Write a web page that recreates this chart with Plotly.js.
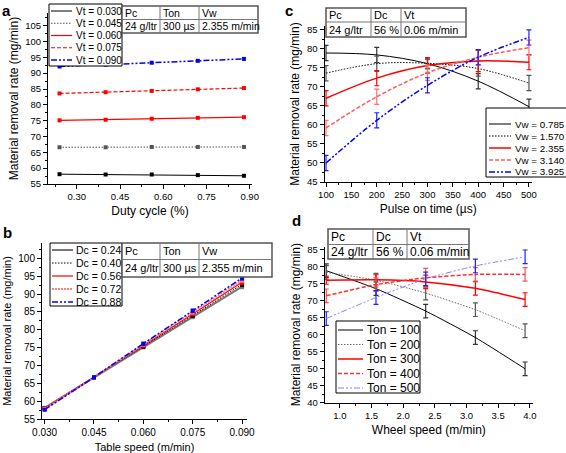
<!DOCTYPE html>
<html><head><meta charset="utf-8">
<script src="https://cdn.plot.ly/plotly-3.0.1.min.js"></script>
<style>html,body{margin:0;padding:0;background:#fff}#chart{width:566px;height:453px}</style>
</head><body><div id="chart"></div>
<script>
// ---------- data: panels a & b ----------
const dutyCycle = [0.24, 0.40, 0.56, 0.72, 0.88];
const tableSpeed = [0.030, 0.045, 0.060, 0.075, 0.090];
const mrrVt030 = [58.1, 58.0, 58.0, 57.8, 57.6];
const mrrVt045 = [66.6, 66.6, 66.7, 66.7, 66.7];
const mrrVt060 = [75.1, 75.3, 75.6, 75.9, 76.1];
const mrrVt075 = [83.6, 84.0, 84.4, 84.9, 85.3];
const mrrVt090 = [92.1, 92.7, 93.3, 93.9, 94.5];
const errTableSpeed = [0.3, 0.3, 0.4, 0.5, 0.6];
const vtLabels = ['Vt = 0.030', 'Vt = 0.045', 'Vt = 0.060', 'Vt = 0.075', 'Vt = 0.090'];
const dcLabels = ['Dc = 0.24', 'Dc = 0.40', 'Dc = 0.56', 'Dc = 0.72', 'Dc = 0.88'];

// ---------- data: panels c & d ----------
const pulseOnTime = [100, 200, 300, 400, 500];
const wheelSpeed = [0.785, 1.570, 2.355, 3.140, 3.925];
const mrrVw0785 = [78.9, 78.4, 76.1, 71.5, 64.8];
const mrrVw1570 = [73.6, 76.1, 76.2, 74.8, 71.0];
const mrrVw2355 = [67.0, 72.3, 75.6, 76.8, 76.5];
const mrrVw3140 = [59.2, 67.4, 73.7, 77.8, 80.3];
const mrrVw3925 = [50.0, 61.2, 70.4, 77.8, 83.0];
const errVw0785 = [2.0, 2.0, 1.2, 2.0, 2.0];
const errVw1570 = [2.0, 2.0, 1.5, 2.0, 2.0];
const errVw2355 = [2.0, 2.0, 2.0, 2.8, 2.0];
const errVw3140 = [2.0, 2.0, 2.0, 2.0, 2.0];
const errVw3925 = [2.0, 2.0, 2.0, 2.0, 2.0];
const vwLabels = ['Vw = 0.785', 'Vw = 1.570', 'Vw = 2.355', 'Vw = 3.140', 'Vw = 3.925'];
const tonLabels = ['Ton = 100', 'Ton = 200', 'Ton = 300', 'Ton = 400', 'Ton = 500'];

// ---------- table texts ----------
const tableAB = [['Pc', 'Ton', 'Vw'], ['24 g/ltr', '300 µs', '2.355 m/min']];
const tableCD = [['Pc', 'Dc', 'Vt'], ['24 g/ltr', '56 %', '0.06 m/min']];

// ---------- helpers ----------
const W = 566, H = 453;
const px = v => v / W;
const py = v => 1 - v / H;
const FONT = 'Liberation Sans, Arial, sans-serif';
const DASHDOT = '6px,2px,2px,2px,2px,2px';
const DOT = '1.5px,1.5px';
const transpose = m => m[0].map((_, j) => m.map(r => r[j]));

const vtSeries = [mrrVt030, mrrVt045, mrrVt060, mrrVt075, mrrVt090];
const dcSeries = transpose(vtSeries);
const vwSeries = [mrrVw0785, mrrVw1570, mrrVw2355, mrrVw3140, mrrVw3925];
const vwErr = [errVw0785, errVw1570, errVw2355, errVw3140, errVw3925];
const tonSeries = transpose(vwSeries);
const tonErr = transpose(vwErr);

const styleA = [
  {color: '#000000', width: 1, dash: 'solid'},
  {color: '#555555', width: 1, dash: DOT},
  {color: '#ff0000', width: 1.2, dash: 'solid'},
  {color: '#ff0000', width: 1.2, dash: '4px,2px'},
  {color: '#0000ff', width: 1.5, dash: DASHDOT}
];
const styleB = [
  {color: '#777777', width: 2, dash: 'solid'},
  {color: '#000000', width: 1, dash: DOT},
  {color: '#ff0000', width: 1.2, dash: 'solid'},
  {color: '#ff8080', width: 2, dash: '2px,1px'},
  {color: '#0000ff', width: 1.5, dash: DASHDOT}
];
const styleC = [
  {color: '#000000', width: 1, dash: 'solid'},
  {color: '#000000', width: 1, dash: DOT},
  {color: '#ff0000', width: 1.5, dash: 'solid'},
  {color: '#ff5a5a', width: 1.5, dash: '4px,2px'},
  {color: '#0000ff', width: 1.5, dash: DASHDOT}
];
const errColC = ['#333333', '#555555', '#ff0000', '#ff7070', '#2020ff'];
const styleD = [
  {color: '#000000', width: 1, dash: 'solid'},
  {color: '#666666', width: 1, dash: DOT},
  {color: '#ff0000', width: 1.5, dash: 'solid'},
  {color: '#ff3030', width: 1.5, dash: '4px,2px'},
  {color: '#8080ff', width: 1, dash: DASHDOT}
];
const errColD = ['#333333', '#555555', '#ff0000', '#ff5050', '#2020ff'];

const traces = [];
vtSeries.forEach((ys, i) => traces.push({
  x: dutyCycle, y: ys, xaxis: 'x', yaxis: 'y', mode: 'lines+markers', name: vtLabels[i],
  line: styleA[i], marker: {symbol: 'square', size: 4, color: styleA[i].color}, showlegend: false
}));
dcSeries.forEach((ys, i) => traces.push({
  x: tableSpeed, y: ys, xaxis: 'x2', yaxis: 'y2', mode: 'lines+markers', name: dcLabels[i],
  line: styleB[i], marker: {symbol: 'square', size: 4, color: styleB[i].color},
  error_y: {type: 'data', array: errTableSpeed, visible: true, color: styleB[i].color, thickness: 1, width: 2},
  showlegend: false
}));
vwSeries.forEach((ys, i) => traces.push({
  x: pulseOnTime, y: ys, xaxis: 'x3', yaxis: 'y3', mode: 'lines', name: vwLabels[i],
  line: Object.assign({shape: 'spline', smoothing: 1}, styleC[i]),
  error_y: {type: 'data', array: vwErr[i], visible: true, color: errColC[i], thickness: 1.2, width: 2.5},
  showlegend: false
}));
tonSeries.forEach((ys, i) => traces.push({
  x: wheelSpeed, y: ys, xaxis: 'x4', yaxis: 'y4', mode: 'lines', name: tonLabels[i],
  line: Object.assign({shape: 'spline', smoothing: 0.6}, styleD[i]),
  error_y: {type: 'data', array: tonErr[i], visible: true, color: errColD[i], thickness: 1.2, width: 2.5},
  showlegend: false
}));

function axis(o) {
  const a = {
    showline: true, linecolor: '#000', linewidth: 1, mirror: false,
    ticks: 'outside', ticklen: 4, tickwidth: 1, tickcolor: '#000',
    showgrid: false, zeroline: false, automargin: false,
    tickfont: {family: FONT, size: 9.5, color: '#000'},
    minor: {ticks: 'outside', ticklen: 2, tickcolor: '#000', showgrid: false, dtick: o.minorDtick},
    title: {text: o.title || '', font: {family: FONT, size: o.titleSize || 12, color: '#000'}, standoff: o.standoff}
  };
  ['domain', 'range', 'tick0', 'dtick', 'tickformat', 'anchor'].forEach(k => { if (o[k] !== undefined) a[k] = o[k]; });
  if (o.tickSize) a.tickfont.size = o.tickSize;
  return a;
}

const shapes = [];
const annotations = [];

function drawLegend(box, firstY, step, sample, textX, labels, styles, fs) {
  shapes.push({type: 'rect', xref: 'paper', yref: 'paper', x0: px(box[0]), x1: px(box[1]), y0: py(box[2]), y1: py(box[3]),
    line: {color: '#000', width: 1}, fillcolor: '#fff', layer: 'above'});
  labels.forEach((lab, i) => {
    const y = firstY + i * step;
    shapes.push({type: 'line', xref: 'paper', yref: 'paper', x0: px(sample[0]), x1: px(sample[1]), y0: py(y), y1: py(y),
      line: {color: styles[i].color, width: styles[i].width, dash: styles[i].dash}, layer: 'above'});
    annotations.push({xref: 'paper', yref: 'paper', x: px(textX), y: py(y), xanchor: 'left', yanchor: 'middle',
      text: lab, showarrow: false, borderpad: 0, font: {family: FONT, size: fs, color: '#000'}});
  });
}

function drawTable(xs, ys, rows, fs) {
  // xs: [left, div1, div2, right]; ys: [top, mid, bottom]
  shapes.push({type: 'rect', xref: 'paper', yref: 'paper', x0: px(xs[0]), x1: px(xs[3]), y0: py(ys[0]), y1: py(ys[2]),
    line: {color: '#555', width: 1.5}, fillcolor: '#fff', layer: 'above'});
  shapes.push({type: 'line', xref: 'paper', yref: 'paper', x0: px(xs[0]), x1: px(xs[3]), y0: py(ys[1]), y1: py(ys[1]),
    line: {color: '#777', width: 1}, layer: 'above'});
  [xs[1], xs[2]].forEach(x => shapes.push({type: 'line', xref: 'paper', yref: 'paper', x0: px(x), x1: px(x), y0: py(ys[0]), y1: py(ys[2]),
    line: {color: '#777', width: 1}, layer: 'above'}));
  rows.forEach((row, r) => row.forEach((txt, c) => annotations.push({
    xref: 'paper', yref: 'paper', x: px(xs[c] + 2), y: py((ys[r] + ys[r + 1]) / 2), xanchor: 'left', yanchor: 'middle',
    text: txt, showarrow: false, borderpad: 0, font: {family: FONT, size: fs, color: '#000'}
  })));
}

// legends
drawLegend([49, 122, 4, 66], 11, 12.25, [51, 72], 75, vtLabels, styleA, 10);
drawLegend([50, 122, 243, 306], 250, 13, [52, 73], 75, dcLabels, styleB, 10.5);
drawLegend([486, 567, 108, 177], 124, 12, [489, 511], 514, vwLabels, styleC, 9.8);
drawLegend([336, 420, 321, 393], 330, 14.5, [338, 363], 366, tonLabels, styleD, 12);

// tables
drawTable([122, 160, 199, 258], [6, 19.5, 33], tableAB, 10.5);
drawTable([122, 160, 199, 272], [243, 259.5, 277], tableAB, 11);
drawTable([326, 371, 401, 466], [8, 22, 37], tableCD, 11);
drawTable([328, 373, 407, 469], [229, 244.5, 259], tableCD, 12);

// panel letters
[['a', 6, 0.5], ['b', 7, 223], ['c', 289, 0.5], ['d', 296, 211]].forEach(([t, x, y]) => annotations.push({
  xref: 'paper', yref: 'paper', x: px(x), y: py(y), xanchor: 'center', yanchor: 'top', text: '<b>' + t + '</b>',
  showarrow: false, borderpad: 0, font: {family: FONT, size: 15, color: '#000'}
}));

const layout = {
  width: W, height: H, margin: {l: 0, r: 0, t: 0, b: 0},
  paper_bgcolor: '#fff', plot_bgcolor: 'rgba(0,0,0,0)', showlegend: false,
  font: {family: FONT, color: '#000'},
  xaxis: axis({domain: [px(48), px(252)], range: [0.2, 0.908], tick0: 0, dtick: 0.15, tickformat: '.2f', minorDtick: 0.075,
    anchor: 'y', title: 'Duty cycle (%)', standoff: 5}),
  yaxis: axis({domain: [py(184), py(13)], range: [55, 109], tick0: 0, dtick: 5, minorDtick: 2.5,
    anchor: 'x', title: 'Material removal rate (mg/min)', standoff: 4}),
  xaxis2: axis({domain: [px(42), px(247)], range: [0.0292, 0.0915], tick0: 0, dtick: 0.015, tickformat: '.3f', minorDtick: 0.0075,
    anchor: 'y2', title: 'Table speed (m/min)', titleSize: 11, standoff: 6, tickSize: 10}),
  yaxis2: axis({domain: [py(419), py(243)], range: [55, 104.3], tick0: 0, dtick: 5, minorDtick: 2.5,
    anchor: 'x2', title: 'Material removal rate (mg/min)', titleSize: 11, standoff: 4, tickSize: 10}),
  xaxis3: axis({domain: [px(324.5), px(532)], range: [97, 506], tick0: 0, dtick: 50, minorDtick: 25,
    anchor: 'y3', title: 'Pulse on time (µs)', standoff: 5}),
  yaxis3: axis({domain: [py(182), py(26)], range: [45, 86], tick0: 0, dtick: 5, minorDtick: 2.5,
    anchor: 'x3', title: 'Material removal rate (mg/min)', standoff: 4}),
  xaxis4: axis({domain: [px(324.7), px(533)], range: [0.76, 4.05], tick0: 0, dtick: 0.5, tickformat: '.1f', minorDtick: 0.25,
    anchor: 'y4', title: 'Wheel speed (m/min)', standoff: 5}),
  yaxis4: axis({domain: [py(402.7), py(246.6)], range: [40, 86], tick0: 0, dtick: 5, minorDtick: 2.5,
    anchor: 'x4', title: 'Material removal rate (mg/min)', standoff: 4}),
  shapes: shapes,
  annotations: annotations
};

Plotly.newPlot('chart', traces, layout, {displayModeBar: false, staticPlot: true});
</script>
</body></html>
